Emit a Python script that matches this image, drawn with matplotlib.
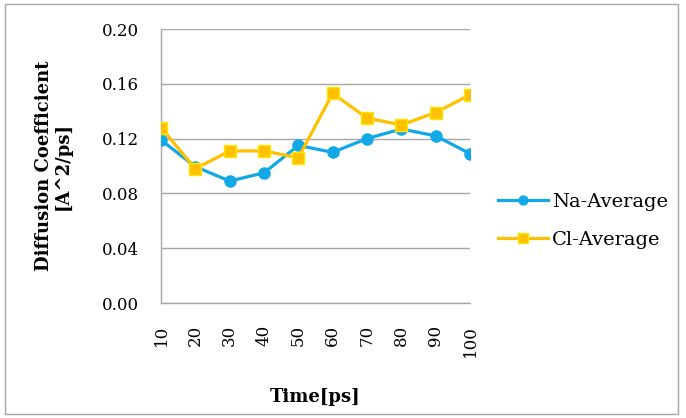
import numpy as np
import matplotlib
matplotlib.use('Agg')
import matplotlib.pyplot as plt
from matplotlib.patches import Rectangle

# data
times = ['10', '20', '30', '40', '50', '60', '70', '80', '90', '100']
na_avg = [0.119, 0.0995, 0.089, 0.095, 0.115, 0.110, 0.120, 0.127, 0.122, 0.109]
cl_avg = [0.128, 0.098, 0.111, 0.111, 0.106, 0.153, 0.135, 0.130, 0.139, 0.152]
yticks = [0.00, 0.04, 0.08, 0.12, 0.16, 0.20]

plt.rcParams['font.family'] = ['DejaVu Serif']

fig = plt.figure(figsize=(6.86, 4.18), dpi=100)
ax = fig.add_axes([161/686, 1 - 303/418, (470-161)/686, (303-29)/418])

x = np.arange(len(times))
ax.plot(x, na_avg, color='#12A8E6', linewidth=2.3, marker='o', markersize=8,
        markeredgecolor='#12A8E6', label='Na-Average', zorder=3)
ax.plot(x, cl_avg, color='#FFC000', linewidth=2.3, marker='s', markersize=9,
        markeredgecolor='#FFE600', markeredgewidth=1, label='Cl-Average', zorder=4)

ax.set_xlim(0, len(times) - 1)
ax.set_ylim(0, 0.20)
ax.set_yticks(yticks)
ax.set_yticklabels([f'{v:.2f}' for v in yticks], fontsize=12)
ax.set_xticks(x)
ax.set_xticklabels(times, rotation=90, fontsize=12)
ax.tick_params(axis='both', length=0)
ax.tick_params(axis='x', pad=16)
ax.tick_params(axis='y', pad=16)

ax.grid(axis='y', color='#A6A6A6', linewidth=1)
ax.set_axisbelow(True)
for s in ['top', 'right']:
    ax.spines[s].set_visible(False)
for s in ['left', 'bottom']:
    ax.spines[s].set_color('#A6A6A6')
    ax.spines[s].set_linewidth(1)

ax.set_ylabel('Diffusion Coefficient\n[A^2/ps]', fontsize=13, fontweight='bold',
              linespacing=1.05)
ax.yaxis.set_label_coords(-0.29, 0.5)
ax.set_xlabel('Time[ps]', fontsize=13, fontweight='bold')
ax.xaxis.set_label_coords(0.5, -0.31)

fig.legend(loc='center left', bbox_to_anchor=(480/686, 1 - 221/418), frameon=False,
           fontsize=14, handlelength=2.6, labelspacing=1.0, handletextpad=0.2,
           markerscale=0.8)

fig.patches.append(Rectangle((5/686, 4/418), 673/686, 410/418, transform=fig.transFigure,
                             fill=False, edgecolor='#A6A6A6', linewidth=1))

plt.savefig('out.png', dpi=100)
